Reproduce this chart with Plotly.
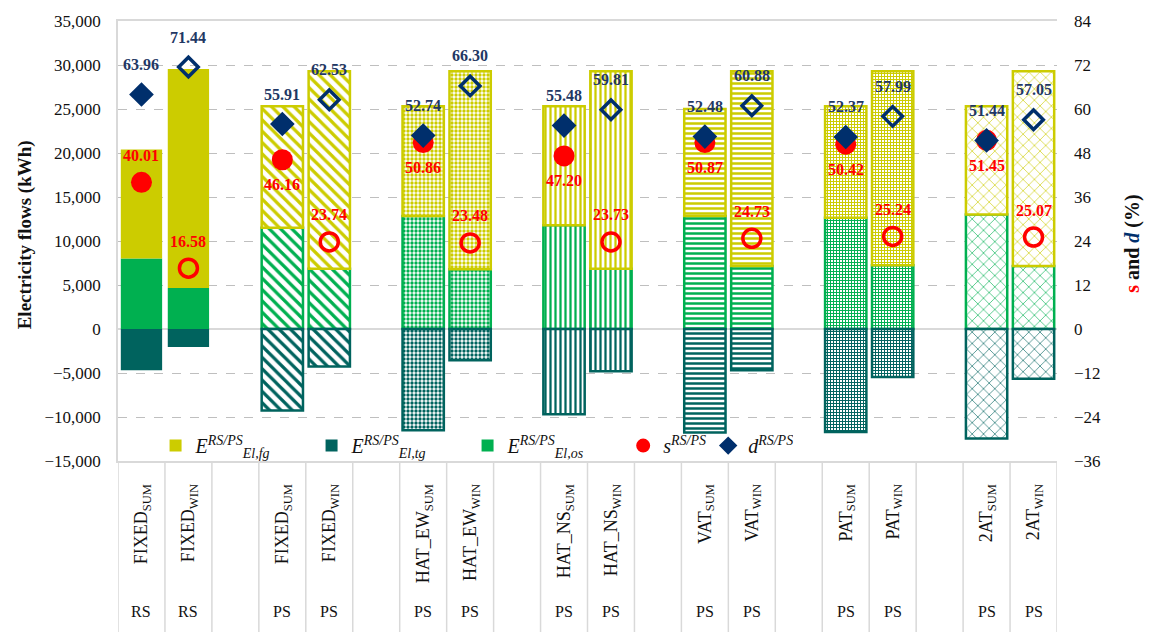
import plotly.graph_objects as go

# ---- data -------------------------------------------------------------
configs = ["FIXED", "FIXED", "HAT_EW", "HAT_NS", "VAT", "PAT", "2AT"]
systems = ["RS", "PS", "PS", "PS", "PS", "PS", "PS"]
seasons = ["SUM", "WIN"]

# electricity flows (kWh), order: config x season
E_os = [8000, 4650, 11500, 6850, 12850, 6800, 11800, 6850,
        12850, 7150, 12650, 7250, 13000, 7150]
E_fg = [12400, 24900, 13800, 22450, 12450, 22500, 13500, 22450,
        12150, 22150, 12650, 22050, 12300, 22150]
E_tg = [-4700, -2050, -9250, -4250, -11500, -3550, -9700, -4800,
        -11750, -4700, -11700, -5450, -12450, -5650]

# self-sufficiency s and self-consumption d (%)
s_vals = [40.01, 16.58, 46.16, 23.74, 50.86, 23.48, 47.20, 23.73,
          50.87, 24.73, 50.42, 25.24, 51.45, 25.07]
d_vals = [63.96, 71.44, 55.91, 62.53, 52.74, 66.30, 55.48, 59.81,
          52.48, 60.88, 52.37, 57.99, 51.44, 57.05]

# fill pattern used for each configuration
group_patterns = ["", "\\", ".", "|", "-", "+", "x"]

# ---- colours / fonts ---------------------------------------------------
C_FG = "#CCCC00"
C_TG = "#00635E"
C_OS = "#00B050"
C_S = "#FF0000"
C_D = "#002F6C"
C_DLAB = "#1F3864"
SERIF = "Liberation Serif, Times New Roman, serif"

# ---- categories (with a blank slot between configurations) ------------
keys, cat_order, cfg_of, sea_of, sys_of, grp_of = [], [], [], [], [], []
for g, (cfg, sy) in enumerate(zip(configs, systems)):
    if g > 0:
        cat_order.append(f"gap{g}")
    for sea in seasons:
        k = f"{cfg}_{sea}/{sy}"
        keys.append(k)
        cat_order.append(k)
        cfg_of.append(cfg)
        sea_of.append(sea)
        sys_of.append(sy)
        grp_of.append(g)


def pattern_for(color):
    shapes, fg, bg, size, sol = [], [], [], [], []
    for g in grp_of:
        sh = group_patterns[g]
        shapes.append(sh)
        if sh == "":
            fg.append(color); bg.append(color); size.append(8); sol.append(0.3)
        elif sh == "\\":
            fg.append(color); bg.append("white"); size.append(8); sol.append(0.4)
        elif sh == ".":
            fg.append(color); bg.append("white"); size.append(4); sol.append(0.55)
        elif sh == "|":
            fg.append(color); bg.append("white"); size.append(5); sol.append(0.45)
        elif sh == "-":
            fg.append(color); bg.append("white"); size.append(5); sol.append(0.5)
        elif sh == "+":
            fg.append(color); bg.append("white"); size.append(3); sol.append(0.55)
        else:
            fg.append(color); bg.append("white"); size.append(8); sol.append(0.15)
    return dict(shape=shapes, fgcolor=fg, bgcolor=bg, size=size,
                solidity=sol, fillmode="replace")


line_w = [0 if sy == "RS" else 2.5 for sy in sys_of]

fig = go.Figure()

E_LEG = "<i>E</i><sup><i>RS/PS</i></sup><sub><i>El,{}</i></sub>"

fig.add_trace(go.Bar(
    x=keys, y=E_os, name=E_LEG.format("os"), legendrank=3,
    marker=dict(color=C_OS, line=dict(color=C_OS, width=line_w),
                pattern=pattern_for(C_OS)),
    width=0.88))
fig.add_trace(go.Bar(
    x=keys, y=E_fg, name=E_LEG.format("fg"), legendrank=1,
    marker=dict(color=C_FG, line=dict(color=C_FG, width=line_w),
                pattern=pattern_for(C_FG)),
    width=0.88))
fig.add_trace(go.Bar(
    x=keys, y=E_tg, name=E_LEG.format("tg"), legendrank=2,
    marker=dict(color=C_TG, line=dict(color=C_TG, width=line_w),
                pattern=pattern_for(C_TG)),
    width=0.88))

filled = [sea == "SUM" for sea in sea_of]
fig.add_trace(go.Scatter(
    x=keys, y=s_vals, yaxis="y2", mode="markers", legend="legend2",
    name="<i>s</i><sup><i>RS/PS</i></sup>",
    marker=dict(symbol=["circle" if f else "circle-open" for f in filled],
                size=[21 if f else 18 for f in filled], color=C_S, opacity=1,
                line=dict(color=C_S, width=[0 if f else 3.5 for f in filled]))))
fig.add_trace(go.Scatter(
    x=keys, y=d_vals, yaxis="y2", mode="markers", legend="legend2",
    name="<i>d</i><sup><i>RS/PS</i></sup>",
    marker=dict(symbol=["diamond" if f else "diamond-open" for f in filled],
                size=[19 if f else 15 for f in filled], color=C_D, opacity=1,
                line=dict(color=C_D, width=[0 if f else 3.5 for f in filled]))))

annotations = []
# value labels
for k, d in zip(keys, d_vals):
    annotations.append(dict(x=k, y=d, yref="y2", text=f"<b>{d:.2f}</b>",
                            showarrow=False, yshift=30,
                            font=dict(family=SERIF, size=16, color=C_DLAB)))
for k, s, sea, sy in zip(keys, s_vals, sea_of, sys_of):
    below = sea == "SUM" and sy == "PS"
    annotations.append(dict(x=k, y=s, yref="y2", text=f"<b>{s:.2f}</b>",
                            showarrow=False, yshift=-25 if below else 27,
                            font=dict(family=SERIF, size=16, color=C_S)))

# system row of the category table
for k, sy in zip(keys, sys_of):
    annotations.append(dict(x=k, y=-0.343, yref="paper", text=sy,
                            xanchor="center", yanchor="middle", showarrow=False,
                            font=dict(family=SERIF, size=16, color="#111")))

# axis titles
annotations.append(dict(x=-0.099, y=0.513, xref="paper", yref="paper",
                        xanchor="center", yanchor="middle",
                        text="<b>Electricity flows (kWh)</b>", textangle=-90,
                        showarrow=False,
                        font=dict(family=SERIF, size=19, color="#111")))
annotations.append(dict(x=1.0795, y=0.493, xref="paper", yref="paper",
                        xanchor="center", yanchor="middle",
                        text=(f"<b><span style='color:{C_S}'>s</span> and "
                              f"<i><span style='color:{C_D}'>d</span></i> (%)</b>"),
                        textangle=-90, showarrow=False,
                        font=dict(family=SERIF, size=20, color="#111")))

# vertical separators of the category table
shapes = []
for i in range(len(cat_order) + 1):
    shapes.append(dict(type="line", xref="x", yref="paper",
                       x0=i - 0.5, x1=i - 0.5, y0=0, y1=-0.39,
                       line=dict(color="#D9D9D9", width=1.5)))

fig.update_layout(
    width=1150, height=632,
    margin=dict(l=118, r=93, t=19, b=171),
    paper_bgcolor="white", plot_bgcolor="white",
    barmode="relative", bargap=0.1,
    font=dict(family=SERIF, size=17, color="#111"),
    xaxis=dict(type="category", categoryorder="array", categoryarray=cat_order,
               range=[-0.5, len(cat_order) - 0.5],
               tickmode="array", tickvals=keys,
               ticktext=[f"{c}<sub>{s}</sub>" for c, s in zip(cfg_of, sea_of)],
               tickangle=-90, ticklabelstandoff=14,
               tickfont=dict(family=SERIF, size=18, color="#111"),
               showgrid=False, ticks="", showline=True, linecolor="#D9D9D9",
               linewidth=1.5, mirror=True),
    yaxis=dict(range=[-15000, 35000], dtick=5000, tickformat=",",
               showgrid=True, gridcolor="#BFBFBF", griddash="dash",
               gridwidth=1, zeroline=True, zerolinecolor="#D9D9D9",
               zerolinewidth=1.5, showline=True, linecolor="#D9D9D9",
               linewidth=1.5, ticks="", ticklabelstandoff=12,
               tickfont=dict(family=SERIF, size=17, color="#111")),
    yaxis2=dict(range=[-36, 84], dtick=12, overlaying="y", side="right",
                showgrid=False, zeroline=False, showline=False, ticks="",
                ticklabelstandoff=16,
                tickfont=dict(family=SERIF, size=17, color="#111")),
    legend=dict(orientation="h", x=0.04, y=0.035, xanchor="left",
                yanchor="middle", entrywidth=111, entrywidthmode="pixels",
                bgcolor="rgba(0,0,0,0)", traceorder="normal",
                font=dict(family=SERIF, size=20, color="#111")),
    legend2=dict(orientation="h", x=0.538, y=0.035, xanchor="left",
                 yanchor="middle", entrywidth=40, entrywidthmode="pixels",
                 bgcolor="rgba(0,0,0,0)", itemsizing="constant",
                 font=dict(family=SERIF, size=20, color="#111")),
    annotations=annotations,
    shapes=shapes,
)

fig.write_html("out.html")
